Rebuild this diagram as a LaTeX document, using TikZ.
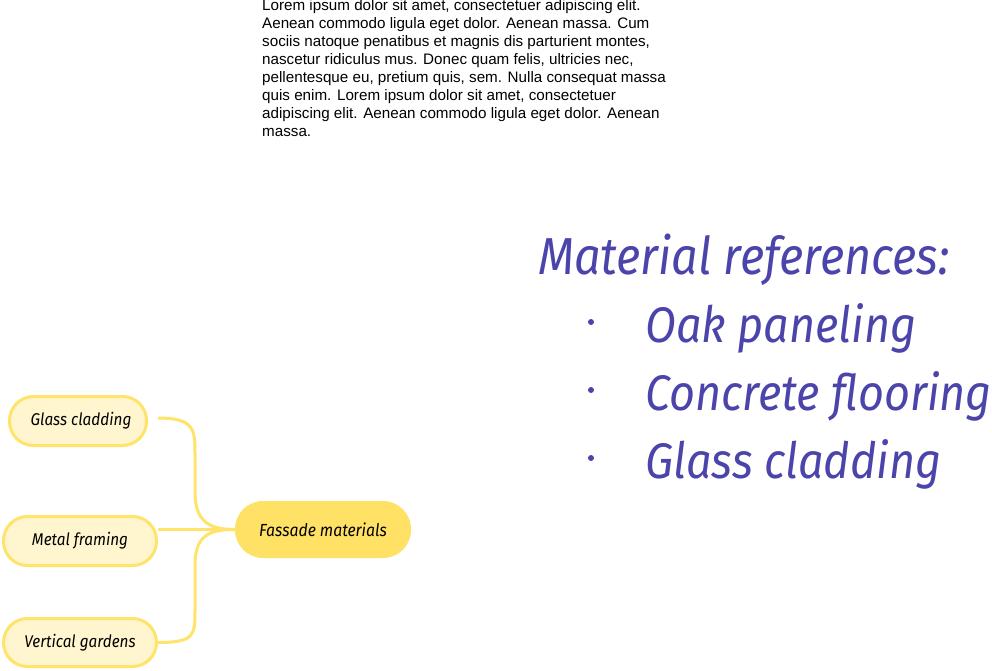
\documentclass[tikz,border=0pt]{standalone}
\usepackage{fontspec}
\setmainfont{Liberation Sans}
\newfontfamily\hand[FakeStretch=0.9]{Fira Sans}
\definecolor{pillline}{HTML}{FFE36B}
\definecolor{pillfill}{HTML}{FFF6CF}
\definecolor{mainfill}{HTML}{FFE165}
\definecolor{ink}{HTML}{4B44AA}
\tikzset{
  subpill/.style={draw=pillline, line width=3pt, fill=pillfill, rounded corners=24pt, inner sep=0pt, font=\hand\itshape\fontsize{17}{17}\selectfont, text=black},
  mainpill/.style={fill=mainfill, rounded corners=28pt, inner sep=0pt, minimum width=176pt, minimum height=57pt, font=\hand\itshape\fontsize{17.5}{17.5}\selectfont, text=black},
  conn/.style={draw=pillline, line width=3pt},
  loremtxt/.style={anchor=base west, inner sep=0pt, font=\fontsize{15.2}{18}\selectfont, text=black},
  handtxt/.style={anchor=base west, inner sep=0pt, font=\hand\itshape\fontsize{50}{50}\selectfont, text=ink},
  bulletdot/.style={circle, fill=ink, inner sep=0pt, minimum size=6pt}
}
\begin{document}
\begin{tikzpicture}[x=1pt,y=-1pt]
\useasboundingbox (0,0) rectangle (992,671);
% Lorem text
\node[loremtxt] (l1) at (262,11) {Lorem ipsum dolor sit amet, consectetuer adipiscing elit.};
\node[loremtxt] (l2) at (262,29) {Aenean commodo ligula eget dolor. Aenean massa. Cum};
\node[loremtxt] (l3) at (262,47) {sociis natoque penatibus et magnis dis parturient montes,};
\node[loremtxt] (l4) at (262,65) {nascetur ridiculus mus. Donec quam felis, ultricies nec,};
\node[loremtxt] (l5) at (262,83) {pellentesque eu, pretium quis, sem. Nulla consequat massa};
\node[loremtxt] (l6) at (262,101) {quis enim. Lorem ipsum dolor sit amet, consectetuer};
\node[loremtxt] (l7) at (262,119) {adipiscing elit. Aenean commodo ligula eget dolor. Aenean};
\node[loremtxt] (l8) at (262,137) {massa.};
% Material references
\node[handtxt, font=\hand\itshape\fontsize{52}{52}\selectfont] (title) at (538,274) {Material references:};
\node[bulletdot] (b1) at (591,322) {};
\node[bulletdot] (b2) at (591,390) {};
\node[bulletdot] (b3) at (591,458) {};
\node[handtxt] (i1) at (645,342) {Oak paneling};
\node[handtxt] (i2) at (645,410) {Concrete flooring};
\node[handtxt] (i3) at (645,478) {Glass cladding};
% Mind map
\node[mainpill] (fass) at (323,529.5) {Fassade materials};
\node[subpill, minimum width=137pt, minimum height=49pt] (glass) at (78,421) {\hspace*{6pt}Glass cladding};
\node[subpill, minimum width=153pt, minimum height=49pt] (metal) at (80,541) {Metal framing};
\node[subpill, minimum width=153pt, minimum height=48pt] (vert) at (80,642.5) {Vertical gardens};
\draw[conn] ([xshift=10pt,yshift=3pt]glass.east) .. controls +(37,0) and +(0,-25) .. (195,455) -- (195,492) .. controls +(0,30) and +(-25,0) .. (fass.west);
\draw[conn] (metal.east |- fass.west) -- (fass.west);
\draw[conn] (vert.east) .. controls +(37,0) and +(0,25) .. (195,610) -- (195,565) .. controls +(0,-30) and +(-25,0) .. (fass.west);
\end{tikzpicture}
\end{document}
